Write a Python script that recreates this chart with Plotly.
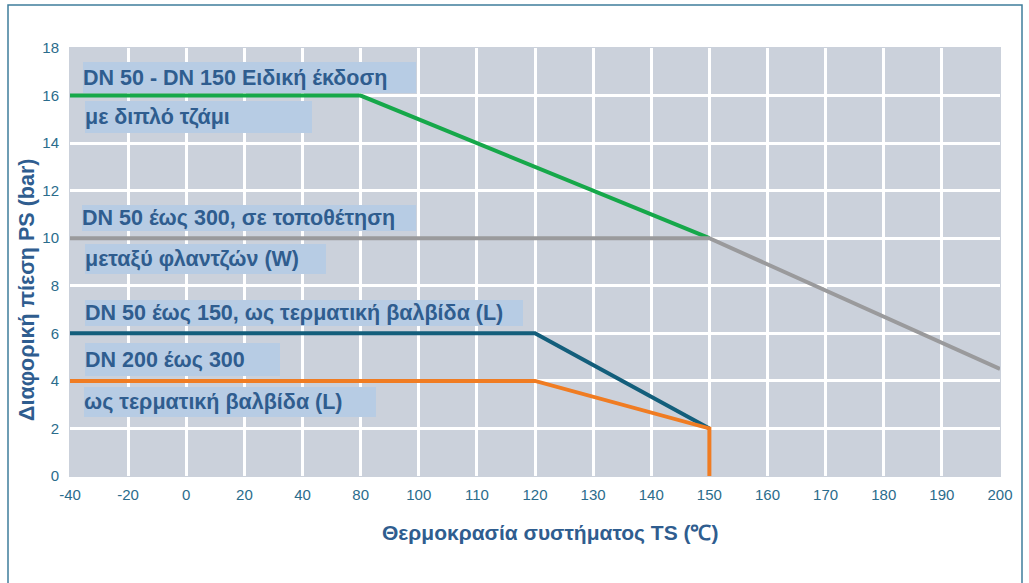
import plotly.graph_objects as go

# Temperature tick categories (non-uniform steps, equally spaced on the chart)
temp_ticks = ["-40", "-20", "0", "20", "40", "80", "100", "110", "120",
              "130", "140", "150", "160", "170", "180", "190", "200"]

# Pressure/temperature curves
green_x = ["-40", "80", "150"]
green_y = [16, 16, 10]
gray_x = ["-40", "150", "200"]
gray_y = [10, 10, 4.5]
blue_x = ["-40", "120", "150"]
blue_y = [6, 6, 2]
orange_x = ["-40", "120", "150", "150"]
orange_y = [4, 4, 2, 0]

labels = [
    "DN 50 - DN 150 Ειδική έκδοση",
    "με διπλό τζάμι",
    "DN 50 έως 300, σε τοποθέτηση",
    "μεταξύ φλαντζών (W)",
    "DN 50 έως 150, ως τερματική βαλβίδα (L)",
    "DN 200 έως 300",
    "ως τερματική βαλβίδα (L)",
]
# label boxes in pixels: (left, right, top, bottom)
label_boxes = [
    (83, 416, 62, 93),
    (85, 312, 101, 133),
    (82, 416, 205, 231),
    (85, 326, 244, 274),
    (85, 523, 300, 326),
    (85, 280, 343, 376),
    (84, 376, 387, 417),
]

W, H = 1029, 583
ML, MR, MT, MB = 70, 29, 48, 107
PW, PH = W - ML - MR, H - MT - MB


def px(xp):
    return (xp - ML) / PW


def py(yp):
    return (H - MB - yp) / PH


FONT = "Liberation Sans"
TEXT_BLUE = "#2f5d8f"
TICK_BLUE = "#2b6c8c"

fig = go.Figure()
for xs, ys, col in [(green_x, green_y, "#16a84a"),
                    (gray_x, gray_y, "#9a9a9c"),
                    (blue_x, blue_y, "#135e7b"),
                    (orange_x, orange_y, "#f07c22")]:
    fig.add_trace(go.Scatter(x=xs, y=ys, mode="lines",
                             line=dict(color=col, width=4),
                             hoverinfo="skip", showlegend=False))

annotations = []
for txt, (x0, x1, y0, y1) in zip(labels, label_boxes):
    annotations.append(dict(
        text="<b>" + txt + "</b>", xref="paper", yref="paper",
        x=px(x0), y=py(y0), xanchor="left", yanchor="top",
        width=x1 - x0, height=y1 - y0, align="left", valign="middle",
        bgcolor="#b7cce4", borderpad=0, borderwidth=0, showarrow=False,
        font=dict(family=FONT, size=21.5, color=TEXT_BLUE)))

annotations.append(dict(
    text="<b>Θερμοκρασία συστήματος TS (℃)</b>", xref="paper", yref="paper",
    x=px(550), y=py(533), xanchor="center", yanchor="middle", showarrow=False,
    font=dict(family=FONT, size=21, color=TEXT_BLUE)))
annotations.append(dict(
    text="<b>Διαφορική πίεση PS (bar)</b>", xref="paper", yref="paper",
    x=px(27), y=py(290), xanchor="center", yanchor="middle", textangle=-90,
    showarrow=False, font=dict(family=FONT, size=21.5, color=TEXT_BLUE)))

fig.update_layout(
    width=W, height=H,
    margin=dict(l=ML, r=MR, t=MT, b=MB),
    paper_bgcolor="white", plot_bgcolor="#cbd1db",
    annotations=annotations,
    shapes=[dict(type="rect", xref="paper", yref="paper",
                 x0=px(8), x1=px(1022), y0=py(600), y1=py(5),
                 line=dict(color="#3f7d9c", width=1.5), layer="below")],
    xaxis=dict(type="category", categoryorder="array", categoryarray=temp_ticks,
               tickvals=temp_ticks, range=[0, 16],
               showgrid=True, gridcolor="white", gridwidth=3,
               showline=True, mirror=True, linecolor="#cbd1db", linewidth=1,
               zeroline=False, ticks="", ticklabelstandoff=5,
               tickfont=dict(family=FONT, size=15, color=TICK_BLUE)),
    yaxis=dict(range=[0, 18], tickvals=list(range(0, 19, 2)),
               showgrid=True, gridcolor="white", gridwidth=3,
               showline=True, mirror=True, linecolor="#cbd1db", linewidth=1,
               zeroline=False, ticks="", ticklabelstandoff=7,
               tickfont=dict(family=FONT, size=15, color=TICK_BLUE)),
)

fig.write_html("out.html")
